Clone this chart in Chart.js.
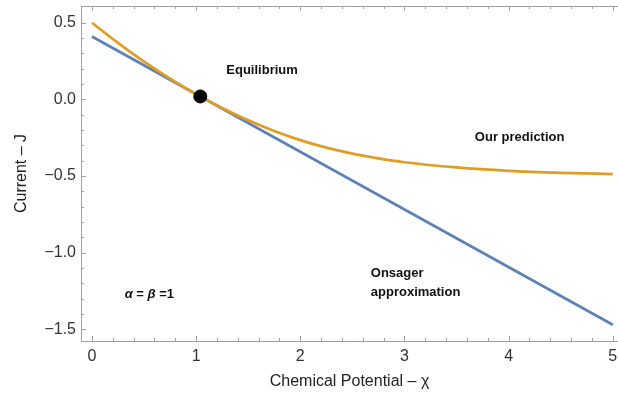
<!DOCTYPE html>
<html>
<head>
<meta charset="utf-8">
<script src="https://cdn.jsdelivr.net/npm/chart.js@4.4.1/dist/chart.umd.min.js"></script>
<style>
html, body { margin: 0; padding: 0; background: #fff; overflow: hidden; }
canvas { display: block; }
</style>
</head>
<body>
<canvas id="chartCurrent" width="618" height="397"></canvas>
<script>
// values
var chiPrediction = [0, 0.25, 0.5, 0.75, 1, 1.25, 1.5, 1.75, 2, 2.25, 2.5, 2.75, 3, 3.5, 4, 4.5, 5];
var jPrediction = [0.5, 0.368, 0.246, 0.135, 0.034, -0.056, -0.136, -0.206, -0.266, -0.315, -0.354, -0.385, -0.41, -0.444, -0.466, -0.479, -0.487];
var chiOnsager = [0, 5];
var jOnsager = [0.41, -1.47];
var equilibrium = [1.04, 0.019];
var xTickValues = [0, 1, 2, 3, 4, 5];
var yTickValues = [-1.5, -1, -0.5, 0, 0.5];

var orange = "#e19c24";
var blue = "#5e81b5";
var frameColor = "#a0a0a0";
var font = "'Liberation Sans', Arial, sans-serif";

function pairs(xs, ys) {
    return xs.map(function (x, i) { return {x: x, y: ys[i]}; });
}

function fmtY(v) {
    var s = Math.abs(v).toFixed(1);
    return v < 0 ? "\u2212" + s : s;
}

// Mathematica style frame: left + bottom + top lines, inward ticks
var framePlugin = {
    id: "frame",
    beforeDatasetsDraw: function (chart) {
        var ctx = chart.ctx, a = chart.chartArea;
        var xs = chart.scales.x, ys = chart.scales.y;
        ctx.save();
        ctx.strokeStyle = frameColor;
        ctx.lineWidth = 1;
        ctx.beginPath();
        ctx.moveTo(a.left + 0.5, a.top);
        ctx.lineTo(a.left + 0.5, a.bottom + 0.5);
        ctx.lineTo(a.right, a.bottom + 0.5);
        ctx.moveTo(a.left, a.top + 0.5);
        ctx.lineTo(a.right, a.top + 0.5);
        ctx.stroke();

        ctx.beginPath();
        for (var i = 0; i <= 25; i++) {
            var v = i * 0.2;
            var px = Math.round(xs.getPixelForValue(v)) + 0.5;
            var len = (i % 5 === 0) ? 5 : 3;
            ctx.moveTo(px, a.bottom);
            ctx.lineTo(px, a.bottom - len);
            ctx.moveTo(px, a.top);
            ctx.lineTo(px, a.top + len);
        }
        for (var j = -15; j <= 6; j++) {
            var py = Math.round(ys.getPixelForValue(j * 0.1)) + 0.5;
            if (py < a.top + 2) continue;
            var ly = (j % 5 === 0) ? 5 : 3;
            ctx.moveTo(a.left, py);
            ctx.lineTo(a.left + ly, py);
        }
        ctx.stroke();
        ctx.restore();
    },
    afterDatasetsDraw: function (chart) {
        var ctx = chart.ctx;
        var xs = chart.scales.x, ys = chart.scales.y;
        ctx.save();
        ctx.fillStyle = "#111";
        ctx.textBaseline = "middle";
        ctx.textAlign = "left";
        var bold = "bold 13px " + font;
        var italic = "italic bold 13px " + font;
        var notes = [
            ["Equilibrium", 1.29, 0.187],
            ["Our prediction", 3.676, -0.25],
            ["Onsager", 2.677, -1.135],
            ["approximation", 2.677, -1.259]
        ];
        ctx.font = bold;
        notes.forEach(function (n) {
            ctx.fillText(n[0], xs.getPixelForValue(n[1]), ys.getPixelForValue(n[2]));
        });
        var parts = [["\u03b1", italic], [" = ", bold], ["\u03b2", italic], [" =1", bold]];
        var px = xs.getPixelForValue(0.314), py = ys.getPixelForValue(-1.272);
        parts.forEach(function (p) {
            ctx.font = p[1];
            ctx.fillText(p[0], px, py);
            px += ctx.measureText(p[0]).width;
        });
        ctx.restore();
    }
};

var current = document.getElementById("chartCurrent").getContext("2d");
var chart = new Chart(current, {
    type: "scatter",
    data: {
        datasets: [
            {
                label: "Equilibrium",
                data: [{x: equilibrium[0], y: equilibrium[1]}],
                backgroundColor: "#000",
                borderColor: "#000",
                pointRadius: 6.5,
                order: 0
            },
            {
                label: "Our prediction",
                data: pairs(chiPrediction, jPrediction),
                showLine: true,
                borderColor: orange,
                borderWidth: 2.7,
                pointRadius: 0,
                cubicInterpolationMode: "monotone",
                order: 1
            },
            {
                label: "Onsager approximation",
                data: pairs(chiOnsager, jOnsager),
                showLine: true,
                borderColor: blue,
                borderWidth: 2.6,
                pointRadius: 0,
                order: 2
            }
        ]
    },
    options: {
        responsive: false,
        animation: false,
        layout: {autoPadding: false, padding: {top: 6, right: 0, left: 0, bottom: 0}},
        plugins: {legend: {display: false}, tooltip: {enabled: false}},
        scales: {
            x: {
                type: "linear",
                min: -0.105,
                max: 5.05,
                grid: {display: false, drawTicks: false},
                border: {display: false},
                afterBuildTicks: function (s) { s.ticks = xTickValues.map(function (v) { return {value: v}; }); },
                afterFit: function (s) {
                    s.height = 56;
                    s.paddingLeft = 0;
                    s.paddingRight = 0;
                },
                ticks: {
                    color: "#333",
                    font: {family: font, size: 16},
                    padding: 6,
                    maxRotation: 0,
                    autoSkip: false,
                    callback: function (v) { return String(v); }
                },
                title: {
                    display: true,
                    text: "Chemical Potential \u2013 \u03c7",
                    color: "#222",
                    font: {family: font, size: 16},
                    padding: {top: 0, bottom: 6}
                }
            },
            y: {
                type: "linear",
                min: -1.576,
                max: 0.609,
                grid: {display: false, drawTicks: false},
                border: {display: false},
                afterBuildTicks: function (s) { s.ticks = yTickValues.map(function (v) { return {value: v}; }); },
                afterFit: function (s) {
                    s.width = 81;
                    s.paddingTop = 0;
                    s.paddingBottom = 0;
                },
                ticks: {
                    color: "#333",
                    font: {family: font, size: 16},
                    padding: 5,
                    autoSkip: false,
                    callback: function (v) { return fmtY(v); }
                },
                title: {
                    display: true,
                    text: "Current \u2013 J",
                    color: "#222",
                    font: {family: font, size: 16},
                    padding: {top: 12, bottom: 0}
                }
            }
        }
    },
    plugins: [framePlugin]
});
</script>
</body>
</html>
